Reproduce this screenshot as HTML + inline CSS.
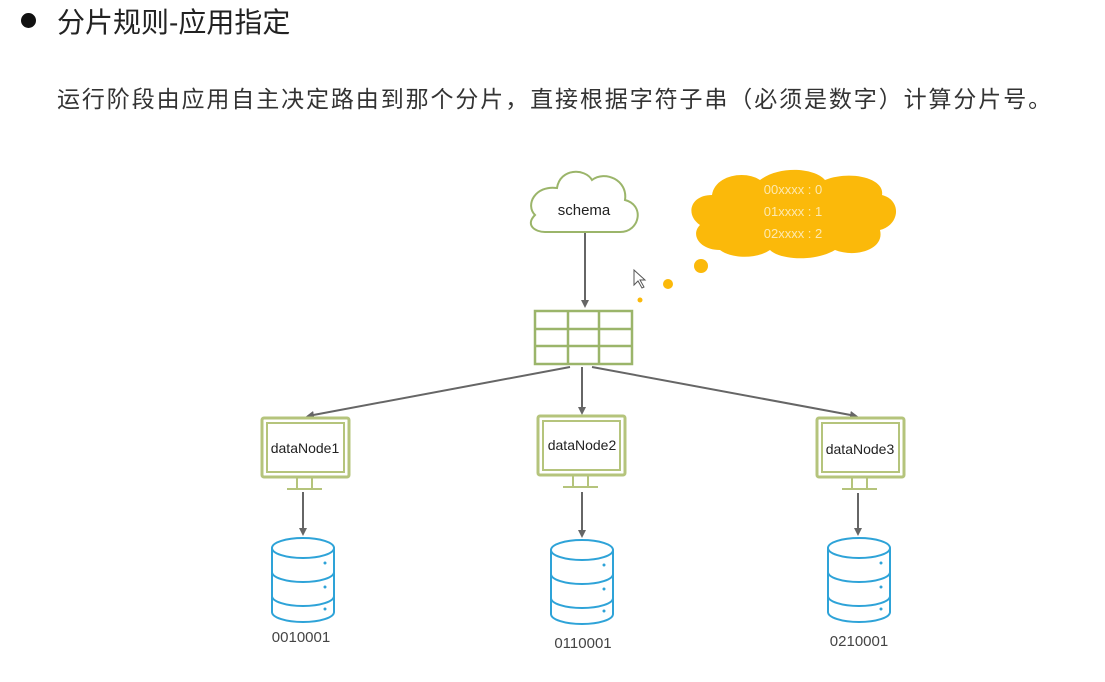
<!DOCTYPE html>
<html><head><meta charset="utf-8"><style>
html,body{margin:0;padding:0;background:#fff;width:1105px;height:682px;overflow:hidden}
.t{position:absolute;font-family:"Liberation Sans","Noto Sans CJK SC",sans-serif;color:#222;white-space:nowrap}
</style></head><body>
<div style="position:absolute;left:21px;top:13px;width:15px;height:15px;border-radius:50%;background:#111"></div>
<div class="t" style="left:57px;top:1px;font-size:28px;">分片规则-应用指定</div>
<div class="t" style="left:57px;top:80px;font-size:23px;letter-spacing:1.9px;color:#333">运行阶段由应用自主决定路由到那个分片，直接根据字符子串（必须是数字）计算分片号。</div>
<svg width="1105" height="682" style="position:absolute;left:0;top:0" xmlns="http://www.w3.org/2000/svg">
<defs><marker id="a" markerWidth="8" markerHeight="8" refX="6" refY="4" orient="auto" markerUnits="userSpaceOnUse"><path d="M0,0 L8,4 L0,8 Z" fill="#666"/></marker></defs>
<path d="M545,232 L620,232 C640,232 645,205 625,200 C628,180 605,170 592,180 C585,168 560,168 557,188 C535,185 525,205 535,215 C525,225 535,232 545,232 Z" fill="#fff" stroke="#9bb56a" stroke-width="2"/>
<text x="584" y="215" font-family="Liberation Sans,sans-serif" font-size="15" text-anchor="middle" fill="#222">schema</text>
<path d="M720,250 C700,250 690,235 700,225 C685,215 690,195 712,195 C715,175 745,170 760,180 C780,165 815,168 825,180 C850,170 885,178 882,195 C902,200 900,225 880,230 C885,250 855,258 835,250 C815,262 780,260 770,250 C755,260 730,258 720,250 Z" fill="#fbb90a"/>
<g font-family="Liberation Sans,sans-serif" font-size="13" fill="#fde9b0" text-anchor="middle">
<text x="793" y="194">00xxxx : 0</text><text x="793" y="216">01xxxx : 1</text><text x="793" y="238">02xxxx : 2</text></g>
<circle cx="701" cy="266" r="7" fill="#fbb90a"/><circle cx="668" cy="284" r="5" fill="#fbb90a"/><circle cx="640" cy="300" r="2.5" fill="#fbb90a"/>
<path d="M634,270 L634,285 L638,281 L642,288 L644,287 L640,280 L645,280 Z" fill="#fff" stroke="#555" stroke-width="1"/>
<g stroke="#666" stroke-width="2" fill="none">
<line x1="585" y1="233" x2="585" y2="306" marker-end="url(#a)"/>
<line x1="570" y1="367" x2="308" y2="416" marker-end="url(#a)"/>
<line x1="582" y1="367" x2="582" y2="413" marker-end="url(#a)"/>
<line x1="592" y1="367" x2="856" y2="416" marker-end="url(#a)"/>
<line x1="303" y1="492" x2="303" y2="534" marker-end="url(#a)"/>
<line x1="582" y1="492" x2="582" y2="536" marker-end="url(#a)"/>
<line x1="858" y1="493" x2="858" y2="534" marker-end="url(#a)"/>
</g>
<g stroke="#9bb56a" stroke-width="2.5" fill="#fff">
<rect x="535" y="311" width="97" height="53"/>
<line x1="535" y1="329" x2="632" y2="329"/><line x1="535" y1="346" x2="632" y2="346"/>
<line x1="568" y1="311" x2="568" y2="364"/><line x1="599" y1="311" x2="599" y2="364"/>
</g>
<g id="m" stroke="#b5c47c" fill="none" stroke-width="2">
<rect x="262" y="418" width="87" height="59" rx="2" stroke-width="3"/>
<rect x="267" y="423" width="77" height="49"/>
<line x1="297" y1="478" x2="297" y2="489"/><line x1="312" y1="478" x2="312" y2="489"/>
<line x1="287" y1="489" x2="322" y2="489"/>
</g>
<use href="#m" x="276" y="-2"/>
<use href="#m" x="555" y="0"/>
<g font-family="Liberation Sans,sans-serif" font-size="14" fill="#222" text-anchor="middle">
<text x="305" y="453">dataNode1</text><text x="582" y="450">dataNode2</text><text x="860" y="454">dataNode3</text></g>
<g id="d" stroke="#2ea3d8" stroke-width="2" fill="#fff">
<path d="M272,548 L272,612 A31,10 0 0 0 334,612 L334,548"/>
<ellipse cx="303" cy="548" rx="31" ry="10"/>
<path d="M272,572 A31,10 0 0 0 334,572 M272,596 A31,10 0 0 0 334,596" fill="none"/>
<circle cx="325" cy="563" r="1.5" fill="#2ea3d8" stroke="none"/><circle cx="325" cy="587" r="1.5" fill="#2ea3d8" stroke="none"/><circle cx="325" cy="609" r="1.5" fill="#2ea3d8" stroke="none"/>
</g>
<use href="#d" x="279" y="2"/>
<use href="#d" x="556" y="0"/>
<g font-family="Liberation Sans,sans-serif" font-size="15" fill="#444" text-anchor="middle">
<text x="301" y="642">0010001</text><text x="583" y="648">0110001</text><text x="859" y="646">0210001</text></g>
</svg>
</body></html>
